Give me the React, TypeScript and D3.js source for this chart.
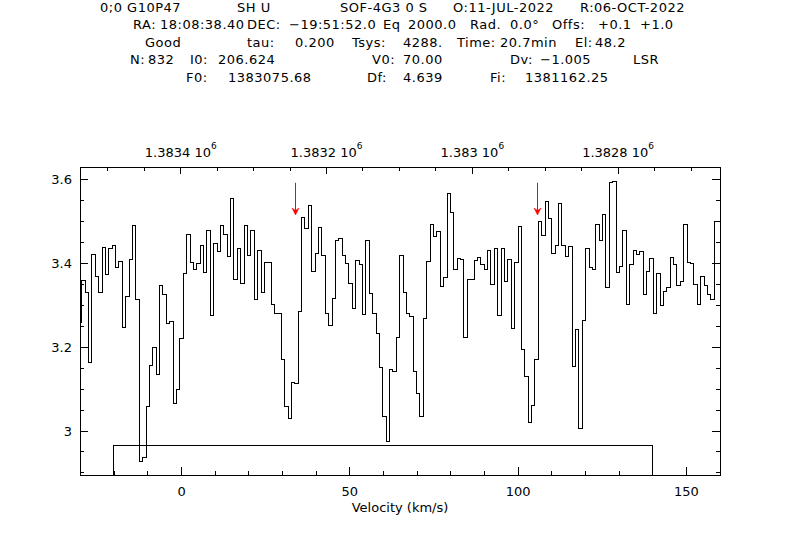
import * as d3 from 'd3'

// Header fields, as printed by CLASS above the spectrum
const F0 = 1383075.68 // MHz, rest frequency at V0
const V0 = 70.0 // km/s
const DV = -1.005 // km/s per channel
const DF = 4.639 // MHz per channel

// Channel grid of the spectrum (velocity of first plotted channel, channel width)
const V_START = -30.17
const CHANNEL_WIDTH = 1.005

// Antenna temperature per channel, left to right
const values = [
  3.26, 3.359, 3.331, 3.164, 3.422, 3.37, 3.331, 3.439, 3.373, 3.437,
  3.444, 3.39, 3.405, 3.248, 3.321, 3.41, 3.49, 3.315, 2.928, 2.937,
  3.058, 3.157, 3.2, 3.134, 3.348, 3.327, 3.256, 3.262, 3.065, 3.1,
  3.221, 3.377, 3.47, 3.403, 3.387, 3.401, 3.444, 3.379, 3.48, 3.277,
  3.449, 3.43, 3.491, 3.47, 3.417, 3.556, 3.362, 3.437, 3.353, 3.491,
  3.42, 3.478, 3.315, 3.432, 3.331, 3.403, 3.403, 3.303, 3.28, 3.28,
  3.17, 3.058, 3.03, 3.115, 3.114, 3.285, 3.511, 3.484, 3.538, 3.382,
  3.425, 3.487, 3.42, 3.28, 3.253, 3.316, 3.456, 3.46, 3.42, 3.401,
  3.353, 3.293, 3.408, 3.398, 3.279, 3.456, 3.329, 3.281, 3.232, 3.152,
  3.034, 2.976, 3.146, 3.142, 3.224, 3.42, 3.331, 3.281, 3.273, 3.142,
  3.09, 3.034, 3.268, 3.406, 3.494, 3.464, 3.476, 3.346, 3.366, 3.568,
  3.522, 3.387, 3.411, 3.409, 3.224, 3.361, 3.361, 3.407, 3.415, 3.397,
  3.387, 3.432, 3.349, 3.435, 3.275, 3.436, 3.358, 3.409, 3.245, 3.403,
  3.488, 3.194, 3.131, 3.021, 3.062, 3.17, 3.5, 3.468, 3.548, 3.507,
  3.423, 3.444, 3.544, 3.444, 3.418, 3.44, 3.155, 3.243, 3.005, 3.265,
  3.436, 3.391, 3.387, 3.494, 3.456, 3.518, 3.342, 3.593, 3.597, 3.378,
  3.393, 3.48, 3.303, 3.399, 3.432, 3.421, 3.43, 3.327, 3.381, 3.413,
  3.28, 3.377, 3.299, 3.333, 3.342, 3.415, 3.399, 3.347, 3.357, 3.494,
  3.402, 3.401, 3.351, 3.303, 3.369, 3.347, 3.327, 3.315, 3.5, 3.5,
]

// Line markers (velocity, km/s)
const arrowVelocities = [33.8, 105.7]

// Baseline window box (velocity range and top level)
const boxRange = [-20.3, 139.9]
const boxTop = 2.966

// Axis ticks
const velocityMajor = [0, 50, 100, 150]
const yMajor = [3, 3.2, 3.4, 3.6]
const yMajorLabels = ['3', '3.2', '3.4', '3.6']
const freqMajor = [1383400, 1383200, 1383000, 1382800]
const freqLabels = ['1.3834', '1.3832', '1.383', '1.3828']

// Header lines: [x, text] pieces
const header: [number, string][][] = [
  [[100, '0;0 G10P47'], [237, 'SH U'], [340, 'SOF-4G3 0 S'], [453, 'O:11-JUL-2022'], [580, 'R:06-OCT-2022']],
  [[133, 'RA:'], [160, '18:08:38.40'], [247, 'DEC:'], [289, '−19:51:52.0'], [383, 'Eq'], [408, '2000.0'], [470, 'Rad.'], [510, '0.0°'], [552, 'Offs:'], [598, '+0.1'], [640, '+1.0']],
  [[145, 'Good'], [247, 'tau:'], [295, '0.200'], [352, 'Tsys:'], [403, '4288.'], [457, 'Time:'], [500, '20.7min'], [575, 'El:'], [595, '48.2']],
  [[130, 'N:'], [148, '832'], [190, 'I0:'], [218, '206.624'], [372, 'V0:'], [403, '70.00'], [510, 'Dv:'], [540, '−1.005'], [633, 'LSR']],
  [[186, 'F0:'], [228, '1383075.68'], [367, 'Df:'], [403, '4.639'], [490, 'Fi:'], [525, '1381162.25']],
]
const headerBaselines = [11.5, 29, 46.5, 64, 81.5]

const FONT = '"DejaVu Sans", sans-serif'

export default function App() {
  const left = 80
  const right = 720
  const top = 167.3
  const bottom = 475

  const x = d3.scaleLinear().domain([-30.2, 160.0]).range([left, right])
  const y = d3.scaleLinear().domain([2.895, 3.63]).range([bottom, top])

  const freqAt = (v: number) => F0 + ((v - V0) * DF) / DV
  const fx = d3
    .scaleLinear()
    .domain([freqAt(-30.2), freqAt(160.0)])
    .range([left, right])

  const line = d3
    .line<number>()
    .x((_, i) => x(V_START + i * CHANNEL_WIDTH))
    .y(d => y(d))
    .curve(d3.curveStep)

  const velocityMinor = d3.range(-30, 161, 10)
  const yMinor = d3.range(58, 73).map(k => k * 0.05)
  const freqMinor = d3.range(1382700, 1383550, 50)

  return (
    <div style={{ position: 'fixed', left: 0, top: 0 }}>
      <svg width={800} height={560} style={{ display: 'block', background: '#fff' }}>
        <defs>
          <clipPath id="plot">
            <rect x={left} y={top} width={right - left} height={bottom - top} />
          </clipPath>
        </defs>

        {/* header */}
        <g fontFamily={FONT} fontSize={13} letterSpacing={0.5} fill="#000">
          {header.map((pieces, li) => (
            <text key={li} y={headerBaselines[li]}>
              {pieces.map(([px, t], pi) => (
                <tspan key={pi} x={px}>
                  {t}
                </tspan>
              ))}
            </text>
          ))}
        </g>

        <g stroke="#000" strokeWidth={1} fill="none" shapeRendering="crispEdges">
          {/* frame */}
          <rect x={left} y={top} width={right - left} height={bottom - top} />

          {/* bottom / velocity ticks */}
          {velocityMinor.map(v => (
            <line key={'vb' + v} x1={x(v)} x2={x(v)} y1={bottom} y2={bottom - (velocityMajor.includes(v) ? 8 : 4)} />
          ))}

          {/* top / frequency ticks */}
          {freqMinor.map(f => (
            <line key={'ft' + f} x1={fx(f)} x2={fx(f)} y1={top} y2={top + (freqMajor.includes(f) ? 7 : 4)} />
          ))}

          {/* left and right ticks */}
          {yMinor.map((v, i) => {
            const major = (i + 2) % 4 === 0
            const len = major ? 8 : 4
            return (
              <g key={'y' + i}>
                <line x1={left} x2={left + len} y1={y(v)} y2={y(v)} />
                <line x1={right} x2={right - len} y1={y(v)} y2={y(v)} />
              </g>
            )
          })}

          {/* baseline window box */}
          <rect
            x={x(boxRange[0])}
            y={y(boxTop)}
            width={x(boxRange[1]) - x(boxRange[0])}
            height={bottom - y(boxTop)}
          />

          {/* spectrum */}
          <path d={line(values) ?? ''} clipPath="url(#plot)" />
        </g>

        {/* line markers */}
        {arrowVelocities.map(v => {
          const ax = Math.round(x(v)) + 0.5
          const y1 = y(3.593)
          const tip = y(3.516)
          return (
            <g key={'a' + v} fill="#ff0000" stroke="#ff0000">
              <line x1={ax} x2={ax} y1={y1} y2={tip - 3} strokeWidth={1} />
              <path d={`M${ax - 3.5},${tip - 7} L${ax},${tip - 4.5} L${ax + 3.5},${tip - 7} L${ax},${tip} Z`} strokeWidth={0.5} />
            </g>
          )
        })}

        {/* tick labels */}
        <g fontFamily={FONT} fontSize={13} fill="#000">
          {yMajor.map((v, i) => (
            <text key={'yl' + v} x={72} y={y(v)} textAnchor="end" dominantBaseline="central">
              {yMajorLabels[i]}
            </text>
          ))}
          {velocityMajor.map(v => (
            <text key={'vl' + v} x={x(v)} y={495.5} textAnchor="middle">
              {v}
            </text>
          ))}
          {freqMajor.map((f, i) => (
            <text key={'fl' + f} x={fx(f)} y={156.7} textAnchor="middle">
              {freqLabels[i]} 10
              <tspan fontSize={9} dy={-8}>
                6
              </tspan>
            </text>
          ))}
          <text x={(left + right) / 2} y={512} textAnchor="middle">
            Velocity (km/s)
          </text>
        </g>
      </svg>
    </div>
  )
}
